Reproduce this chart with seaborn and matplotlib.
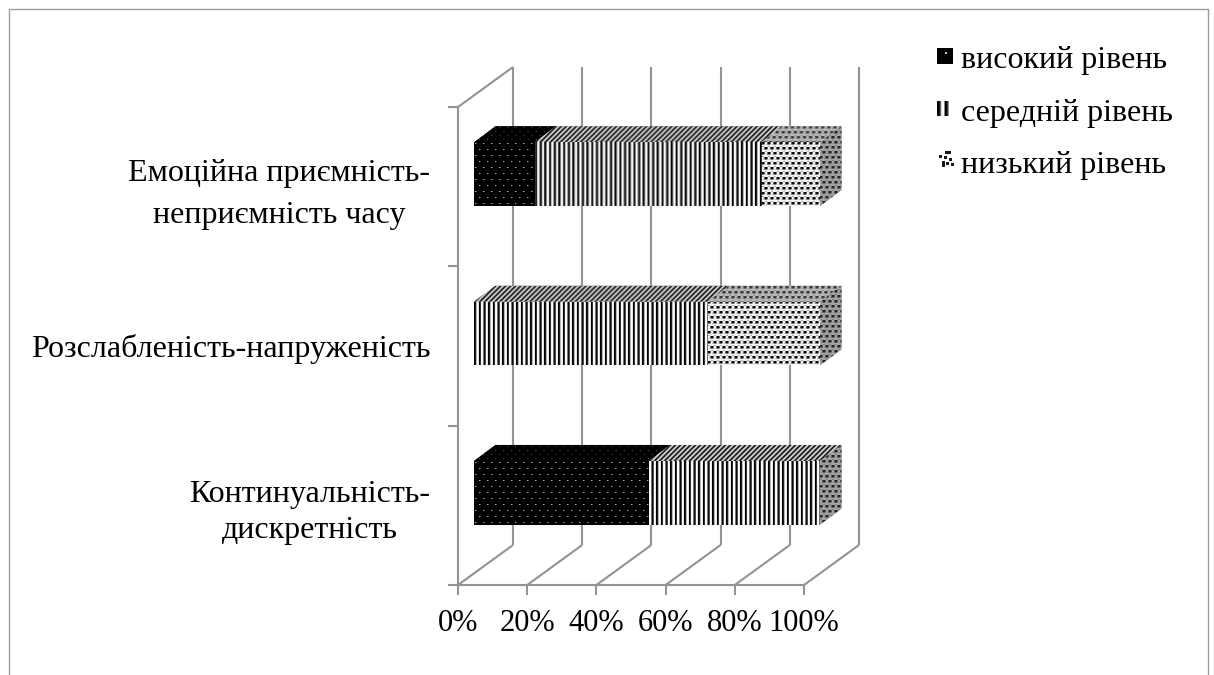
import matplotlib
matplotlib.use("Agg")
import matplotlib.pyplot as plt
from matplotlib.lines import Line2D
from matplotlib.patches import Patch, Polygon
from matplotlib.transforms import Affine2D
import numpy as np
import pandas as pd
import seaborn as sns

categories = ["Емоційна приємність-\nнеприємність часу",
              "Розслабленість-напруженість",
              "Континуальність-\nдискретність"]
high = [17.5, 0, 50.5]
medium = [65.5, 67.5, 49.5]
low = [17, 32.5, 0]
levels = ["високий рівень", "середній рівень", "низький рівень"]
x_ticks = [0, 20, 40, 60, 80, 100]
x_labels = ["0%", "20%", "40%", "60%", "80%", "100%"]

W, H = 1214, 675
GREY = "#939393"
sns.set_theme(style="white")
plt.rcParams["font.family"] = ["Liberation Serif", "DejaVu Serif"]
plt.rcParams["text.color"] = "black"

fig = plt.figure(figsize=(W / 100, H / 100), dpi=100, facecolor="white")
ax = fig.add_axes([458 / W, 1 - 585 / H, 346 / W, 478 / H])
ax.patch.set_alpha(0)

df = pd.DataFrame({"category": categories, "high": high, "medium": medium, "low": low})
df["to_high"] = df["high"]
df["to_medium"] = df["high"] + df["medium"]
df["to_low"] = df["to_medium"] + df["low"]

# Pseudo-3D geometry, expressed in data units
px_x = 100 / 346
px_y = 3 / 478
BAR_DX, BAR_DY = 16 * px_x, -12.5 * px_y
DEPTH_X, DEPTH_Y = 21.5 * px_x, -16 * px_y
WALL_DX, WALL_DY = 55 * px_x, -40 * px_y
BAR_WIDTH = 0.4

# Greyscale fill patterns, one tile per face type (0 = black, 1 = white)
dots = np.zeros((12, 8))
dots[1, 1], dots[1, 2], dots[7, 5], dots[7, 6] = 0.7, 0.3, 0.7, 0.3
dots_top = np.zeros((8, 8))
dots_top[1, 1], dots_top[5, 5] = 0.35, 0.35
stripes = np.array([[0, .1, .7, 1, .9, 0, .2, .95, 1, .45, .05, .3, 1, .9]])
ramp = np.array([.15, .15, .6, .85, .6])
stripes_top = np.array([[ramp[(r + c) % 5] for c in range(5)] for r in range(5)])
half = np.array([[.05, .05, .40, .95, .95, .40],
                 [.05, .05, .40, .95, .95, .40],
                 [.45, .45, .70, .95, .75, .65],
                 [.95, .95, .95, .95, .95, .95],
                 [.70, .70, .95, .95, .95, .95]])
blobs = np.vstack([half, np.roll(half, 3, axis=1)])
blobs_top = blobs * 0.55 + 0.2
blobs_side = blobs * 0.55 + 0.12

front_tiles = {"high": dots, "medium": stripes, "low": blobs}
top_tiles = {"high": dots_top, "medium": stripes_top, "low": blobs_top}
base_colors = {"high": "black", "medium": "#808080", "low": "#b0b0b0"}
z_order = {"low": 4.0, "medium": 4.2, "high": 4.4}

shift = Affine2D().translate(BAR_DX, BAR_DY) + ax.transData


def paint(tile, clip, x0, x1, y0, y1, z):
    """Fill a face with a pixel-sized tiled pattern clipped to its outline."""
    rows = max(int(round((y1 - y0) / px_y)), 1)
    cols = max(int(round((x1 - x0) / px_x)), 1)
    reps = (rows // tile.shape[0] + 1, cols // tile.shape[1] + 1)
    image = np.tile(tile, reps)[:rows, :cols]
    im = ax.imshow(image, extent=(x0, x1, y1, y0), origin="upper", aspect="auto",
                   cmap="gray", vmin=0, vmax=1, interpolation="bilinear",
                   zorder=z, transform=shift)
    im.set_clip_box(fig.bbox)
    im.set_clip_path(clip)


# Front faces: cumulative bars painted from longest to shortest
for key in ["low", "medium", "high"]:
    before = len(ax.patches)
    sns.barplot(data=df, x=f"to_{key}", y="category", orient="h", color=base_colors[key],
                width=BAR_WIDTH, saturation=1, ax=ax, zorder=z_order[key])
    for bar in ax.patches[before:]:
        bar.set_transform(shift)
        bar.set_clip_on(False)
        bar.set_linewidth(0)
        if bar.get_width() > 0:
            paint(front_tiles[key], bar, 0, bar.get_width(), bar.get_y(),
                  bar.get_y() + bar.get_height(), z_order[key] + 0.1)

ax.set_xlim(0, 100)
ax.set_ylim(2.5, -0.5)


def face(points, tile, color, z):
    outline = Polygon(points, closed=True, facecolor=color, linewidth=0, zorder=z,
                      clip_on=False, transform=shift)
    ax.add_patch(outline)
    xs, ys = zip(*points)
    paint(tile, outline, min(xs), max(xs), min(ys), max(ys), z + 0.05)


# Top and end faces of every bar
for i in range(len(categories)):
    up = i - BAR_WIDTH / 2
    down = i + BAR_WIDTH / 2
    start = 0
    for n, (key, end) in enumerate(zip(["high", "medium", "low"],
                                       [df["to_high"][i], df["to_medium"][i], df["to_low"][i]])):
        if end > start:
            face([(start, up), (end, up), (end + DEPTH_X, up + DEPTH_Y),
                  (start + DEPTH_X, up + DEPTH_Y)], top_tiles[key], base_colors[key], 3 + n * 0.2)
        start = end
    face([(start, up), (start + DEPTH_X, up + DEPTH_Y),
          (start + DEPTH_X, down + DEPTH_Y), (start, down)], blobs_side, "#808080", 3.8)

# Back wall gridlines and their floor diagonals
line_kw = dict(color=GREY, lw=1.5, clip_on=False, zorder=1, solid_capstyle="butt")
for t in x_ticks:
    ax.plot([t + WALL_DX] * 2, [-0.5 + WALL_DY, 2.5 + WALL_DY], **line_kw)
    ax.plot([t, t + WALL_DX], [2.5, 2.5 + WALL_DY], **line_kw)
ax.plot([0, WALL_DX], [-0.5, -0.5 + WALL_DY], **line_kw)

# Axes, ticks and labels
for side in ["top", "right"]:
    ax.spines[side].set_visible(False)
for side in ["left", "bottom"]:
    ax.spines[side].set_color(GREY)
    ax.spines[side].set_linewidth(1.5)
ax.set_xlabel("")
ax.set_ylabel("")
ax.set_xticks(x_ticks, x_labels)
ax.set_yticks([-0.5, 0.5, 1.5, 2.5], [""] * 4)
ax.set_yticks([-0.015, 1, 2], categories, minor=True)
ax.tick_params(axis="x", which="major", length=7, width=1.5, color=GREY, pad=10,
               labelsize=22, labelcolor="black", bottom=True)
ax.tick_params(axis="y", which="major", length=7, width=1.5, color=GREY, left=True)
ax.tick_params(axis="y", which="minor", length=0, pad=20, labelsize=23,
               labelcolor="black", left=False)
for lab, spacing in zip(ax.get_yticklabels(minor=True), [1.58, 1.2, 1.32]):
    lab.set_multialignment("center")
    lab.set_linespacing(spacing)

# Legend entries; the swatches are small pattern images placed beside them
blank = [Patch(facecolor="none", edgecolor="none") for _ in levels]
fig.legend(blank, levels, loc="upper left", bbox_to_anchor=(937 / W, 1 - 46 / H),
           frameon=False, fontsize=23, handlelength=0.5, handleheight=0.5,
           handletextpad=0.25, labelspacing=0.74, borderpad=0, borderaxespad=0)

swatch_high = np.zeros((16, 16))
swatch_high[4:6, 8:10] = 0.75
swatch_medium = np.tile(np.array([[0, 0, .1, .5, 1, 1, 1, 0, 0, .1, .5, 1, 1]]), (15, 1))
swatch_low = np.ones((16, 17))
for r, c in [(0, 8), (0, 11), (4, 2), (5, 7), (7, 12), (10, 5), (11, 9), (12, 14), (13, 5)]:
    swatch_low[r:r + 3, c:c + 3] = 0.1
swatches = [(swatch_high, 937, 48), (swatch_medium, 937, 101), (swatch_low, 937, 151)]
for pattern, left, top in swatches:
    rows, cols = pattern.shape
    cax = fig.add_axes([left / W, 1 - (top + rows) / H, cols / W, rows / H])
    cax.imshow(pattern, cmap="gray", vmin=0, vmax=1, aspect="auto", interpolation="bilinear")
    cax.axis("off")

# Outer chart frame
frame = dict(color="#9c9c9c", lw=1.0, transform=None)
for xs, ys in [([9, 9], [0, H - 9]), ([9, 1208], [H - 9, H - 9]), ([1208, 1208], [H - 9, 0])]:
    fig.add_artist(Line2D(xs, ys, **frame))

fig.savefig("out.png", dpi=100, facecolor="white")
